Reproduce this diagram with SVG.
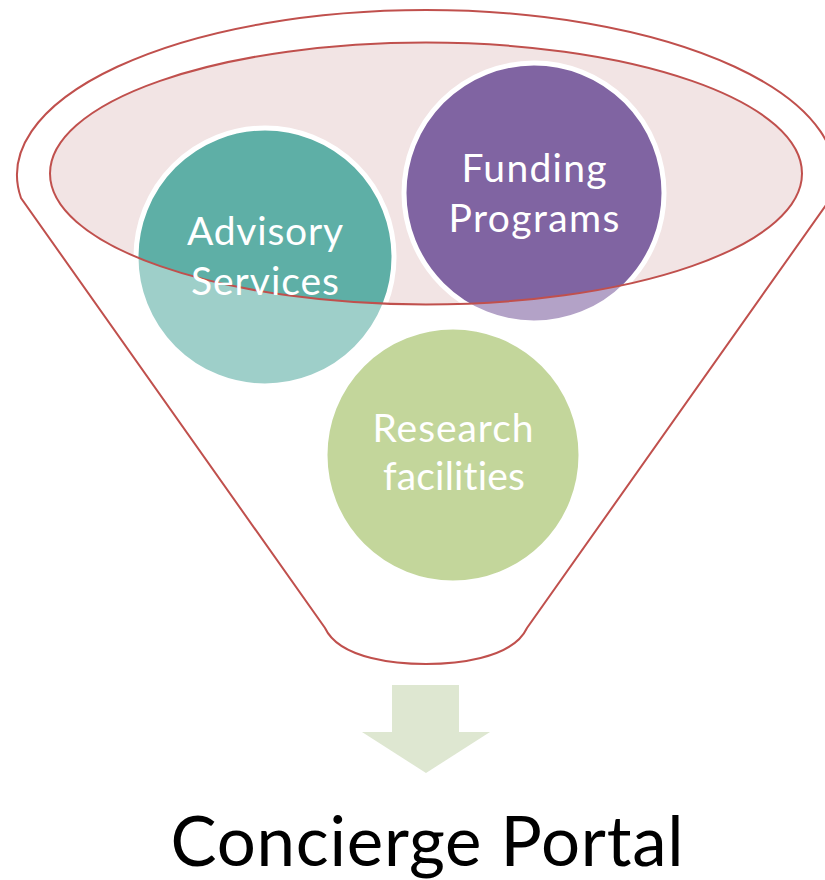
<svg xmlns="http://www.w3.org/2000/svg" width="825" height="880" viewBox="0 0 825 880">
<style>
text{font-variant-ligatures:none}
.lbl{font-family:Lato,"Open Sans","Liberation Sans",sans-serif;font-size:39px;fill:#ffffff;text-anchor:middle}
.red{fill:none;stroke:#C0504D;stroke-width:2}
.node{stroke:#ffffff;stroke-width:5}
</style>
<rect width="825" height="880" fill="#ffffff"/>
<g id="funnel-inner">
<ellipse cx="426" cy="173.5" rx="376" ry="131" fill="#F2E4E4"/>
</g>
<g id="node-advisory">
<circle cx="265" cy="257" r="129" fill="#5EAFA6" class="node"/>
</g>
<g id="node-funding">
<circle cx="534" cy="193" r="130" fill="#8064A2" class="node"/>
</g>
<g id="node-research">
<circle cx="453" cy="455" r="128" fill="#9BBB59" class="node"/>
</g>
<g id="funnel-overlay">
<path fill="#ffffff" fill-opacity="0.4" fill-rule="evenodd" d="M0,0 H825 V880 H0 Z M50,173.5 A376,131 0 1 0 802,173.5 A376,131 0 1 0 50,173.5 Z"/>
</g>
<g id="funnel-outline">
<ellipse cx="426" cy="173.5" rx="376" ry="131" class="red"/>
<path class="red" d="M21,198 A409,165 0 1 1 831,198 L527,628 C512,660 452,664 426,664 C400,664 340,660 325,628 Z"/>
</g>
<g id="labels">
<text class="lbl" x="265" y="245" textLength="156">Advisory</text>
<text class="lbl" x="265" y="295" textLength="148">Services</text>
<text class="lbl" x="534" y="182" textLength="145">Funding</text>
<text class="lbl" x="534" y="232" textLength="171">Programs</text>
<text class="lbl" x="453" y="442" textLength="161">Research</text>
<text class="lbl" x="454" y="490" textLength="142">facilities</text>
</g>
<g id="connectors">
<path d="M392,685 H459 V732 H490 L426,773 L362,732 H392 Z" fill="#DEE7D1"/>
</g>
<g id="result">
<text x="427" y="866" font-family="Lato,'Open Sans','Liberation Sans',sans-serif" font-size="69" fill="#000000" text-anchor="middle" textLength="513">Concierge Portal</text>
</g>
</svg>
